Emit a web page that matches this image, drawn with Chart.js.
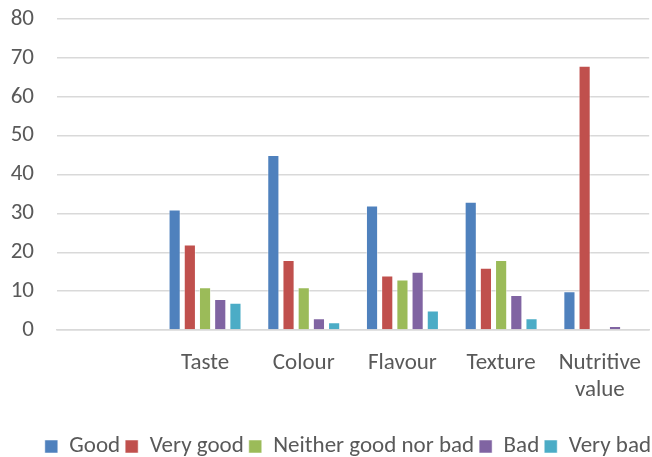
<!DOCTYPE html>
<html>
<head>
<meta charset="utf-8">
<script src="https://cdn.jsdelivr.net/npm/chart.js@4"></script>
<style>
  html, body { margin: 0; padding: 0; background: #fff; }
  #wrap { width: 652px; height: 457px; }
</style>
</head>
<body>
<div id="wrap"><canvas id="ratingChart"></canvas></div>
<script>
// 分类与各评价等级的人数
const categories = ['', 'Taste', 'Colour', 'Flavour', 'Texture', ['Nutritive', 'value']];
const seriesNames = ['Good', 'Very good', 'Neither good nor bad', 'Bad', 'Very bad'];
const good = [null, 31, 45, 32, 33, 10];
const veryGood = [null, 22, 18, 14, 16, 68];
const neither = [null, 11, 11, 13, 18, 0];
const bad = [null, 8, 3, 15, 9, 1];
const veryBad = [null, 7, 2, 5, 3, 0];
const yTicks = [0, 10, 20, 30, 40, 50, 60, 70, 80];

const colors = ['#4F81BD', '#C0504D', '#9BBB59', '#8064A2', '#4BACC6'];
const FONT = "Carlito, 'Liberation Sans', sans-serif";
const FONT_SIZE = 23;

document.addEventListener('DOMContentLoaded', () => {
    initRatingChart();
});

function initRatingChart() {
    const ctx = document.getElementById('ratingChart').getContext('2d');
    const values = [good, veryGood, neither, bad, veryBad];

    new Chart(ctx, {
        type: 'bar',
        data: {
            labels: categories,
            datasets: seriesNames.map((name, i) => ({
                label: name,
                data: values[i],
                backgroundColor: colors[i],
                borderColor: 'rgba(255,255,255,0.5)',
                borderWidth: 1,
                categoryPercentage: 0.77,
                barPercentage: 0.8
            }))
        },
        options: {
            responsive: true,
            maintainAspectRatio: false,
            animation: false,
            // 底部负边距把图例往下压，右侧略微超出画布
            layout: { padding: { top: 19, right: -4, left: 0, bottom: -11 } },
            plugins: {
                legend: {
                    position: 'bottom',
                    align: 'end',
                    labels: {
                        boxWidth: 13,
                        boxHeight: 13,
                        padding: 5,
                        color: '#595959',
                        font: { family: FONT, size: FONT_SIZE }
                    }
                },
                tooltip: { enabled: false }
            },
            scales: {
                y: {
                    min: 0,
                    max: 80,
                    afterBuildTicks: axis => {
                        axis.ticks = yTicks.map(v => ({ value: v }));
                    },
                    afterFit: axis => {
                        axis.width = 57;
                        axis.paddingTop = 0;
                        axis.paddingBottom = 0;
                    },
                    border: { display: false },
                    grid: {
                        color: '#d9d9d9',
                        lineWidth: 1.5,
                        drawTicks: false
                    },
                    ticks: {
                        padding: 23,
                        color: '#595959',
                        font: { family: FONT, size: FONT_SIZE }
                    }
                },
                x: {
                    afterFit: axis => { axis.height = 100; },
                    border: { color: '#d9d9d9', width: 1.5 },
                    grid: { display: false },
                    ticks: {
                        padding: 11,
                        maxRotation: 0,
                        autoSkip: false,
                        color: '#595959',
                        font: { family: FONT, size: FONT_SIZE, lineHeight: 1.2 }
                    }
                }
            }
        }
    });
}
</script>
</body>
</html>
